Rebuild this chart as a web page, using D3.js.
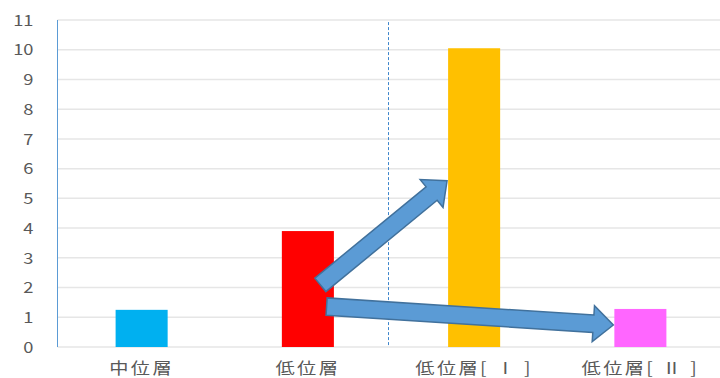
<!DOCTYPE html>
<html>
<head>
<meta charset="utf-8">
<script src="https://cdn.jsdelivr.net/npm/d3@7/dist/d3.min.js"></script>
<style>
  html, body { margin: 0; padding: 0; background: #ffffff; }
  svg { display: block; }
  text { font-family: "Noto Sans CJK JP", "Noto Sans", sans-serif; fill: #595959; }
</style>
</head>
<body>
<svg id="chart" width="720" height="378"></svg>
<script>
// Categories and values
const categories = ["中位層", "低位層", "低位層[ Ⅰ ]", "低位層[ Ⅱ ]"];
const values = [1.25, 3.9, 10.05, 1.28];
const barColors = ["#00b0f0", "#ff0000", "#ffc000", "#ff66ff"];
const yTicks = [0, 1, 2, 3, 4, 5, 6, 7, 8, 9, 10, 11];

// Annotation arrows: from a point on one bar to a point on another
// (shift is a fraction of the bar width from the bar centre)
const arrowFrom = ["低位層", "低位層"];
const arrowFromValue = [2.09, 1.36];
const arrowFromShift = [0.24, 0.36];
const arrowTo = ["低位層[ Ⅰ ]", "低位層[ Ⅱ ]"];
const arrowToValue = [5.59, 0.74];
const arrowToShift = [-0.52, -0.52];

const svg = d3.select("#chart");
const W = 720, H = 378;
const axisX = 57.5, plotTop = 20, plotBottom = 347;

const x = d3.scaleBand()
  .domain(categories)
  .range([58.5, 723.5])
  .paddingInner(0.687)
  .paddingOuter(0.3435);

const y = d3.scaleLinear().domain([0, 11]).range([plotBottom, plotTop]);

// Horizontal gridlines
svg.append("g")
  .selectAll("line")
  .data(yTicks)
  .join("line")
  .attr("x1", axisX)
  .attr("x2", W)
  .attr("y1", d => y(d))
  .attr("y2", d => y(d))
  .attr("stroke", "#e6e6e6")
  .attr("stroke-width", 1.5);

// Y axis with stretched tick labels
const yAxis = svg.append("g")
  .attr("transform", `translate(${axisX},0)`)
  .call(d3.axisLeft(y).tickValues(yTicks).tickSize(0).tickPadding(0));
yAxis.select(".domain").remove();
yAxis.selectAll("text")
  .attr("x", 0)
  .attr("dy", "0.35em")
  .attr("text-anchor", "end")
  .attr("transform", "translate(-24,0) scale(1.22,1)")
  .style("font-size", "15px")
  .style("fill", "#595959");

// Left axis line
svg.append("line")
  .attr("x1", axisX).attr("x2", axisX)
  .attr("y1", y(11)).attr("y2", y(0))
  .attr("stroke", "#5b9bd5")
  .attr("stroke-width", 1);

// Dashed divider between the two groups
const divX = Math.round(x(categories[2]) - x.step() * x.paddingInner() / 2 - 3.5) + 0.5;
svg.append("line")
  .attr("x1", divX).attr("x2", divX)
  .attr("y1", y(10.93)).attr("y2", y(0))
  .attr("stroke", "#3f86cc")
  .attr("stroke-width", 1)
  .attr("stroke-dasharray", "3,2");

// Bars
svg.append("g")
  .selectAll("rect")
  .data(categories)
  .join("rect")
  .attr("x", d => x(d))
  .attr("width", x.bandwidth())
  .attr("y", (d, i) => y(values[i]))
  .attr("height", (d, i) => y(0) - y(values[i]))
  .attr("fill", (d, i) => barColors[i]);

// X axis labels
const xAxis = svg.append("g")
  .attr("transform", `translate(0,${plotBottom})`)
  .call(d3.axisBottom(x).tickSize(0).tickPadding(0));
xAxis.select(".domain").remove();
xAxis.selectAll(".tick text")
  .attr("y", 0)
  .attr("dy", 0)
  .attr("text-anchor", "middle")
  .attr("transform", "translate(0,27) scale(1.2,1)")
  .style("font-size", "16px")
  .style("letter-spacing", "2px")
  .style("white-space", "pre")
  .style("fill", "#595959");

// Block arrows
function arrowPath(t, p) {
  const s = 8.7, h = 18, L = 20;
  const dx = p[0] - t[0], dy = p[1] - t[1];
  const len = Math.hypot(dx, dy);
  const ux = dx / len, uy = dy / len;
  const nx = -uy, ny = ux;
  const b = [p[0] - ux * L, p[1] - uy * L];
  const pts = [
    [t[0] + nx * s, t[1] + ny * s],
    [b[0] + nx * s, b[1] + ny * s],
    [b[0] + nx * h, b[1] + ny * h],
    p,
    [b[0] - nx * h, b[1] - ny * h],
    [b[0] - nx * s, b[1] - ny * s],
    [t[0] - nx * s, t[1] - ny * s]
  ];
  return "M" + pts.map(q => q[0].toFixed(2) + "," + q[1].toFixed(2)).join("L") + "Z";
}

const bw = x.bandwidth();
const center = c => x(c) + bw / 2;
svg.append("g")
  .selectAll("path")
  .data(arrowFrom)
  .join("path")
  .attr("d", (d, i) => arrowPath(
    [center(arrowFrom[i]) + arrowFromShift[i] * bw, y(arrowFromValue[i])],
    [center(arrowTo[i]) + arrowToShift[i] * bw, y(arrowToValue[i])]
  ))
  .attr("fill", "#5b9bd5")
  .attr("stroke", "#41719c")
  .attr("stroke-width", 1.5)
  .attr("stroke-linejoin", "miter");
</script>
</body>
</html>
